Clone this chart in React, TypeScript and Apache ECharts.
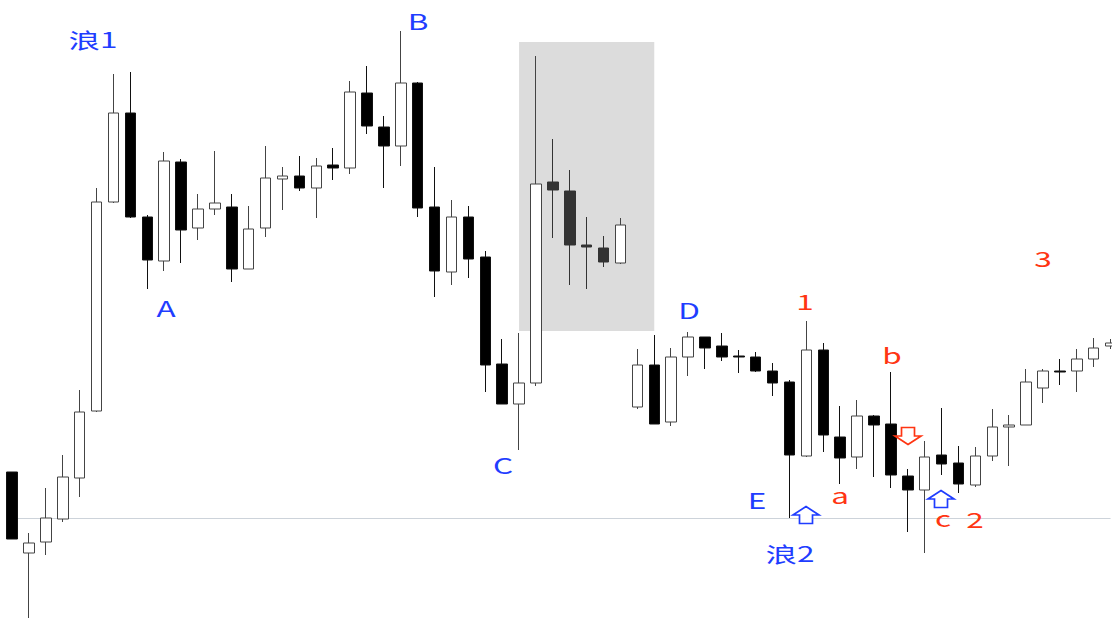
import React, { useEffect, useRef } from "react";
import * as echarts from "echarts";

// ---- data (price units, arbitrary scale) ----
const categories = Array.from({ length: 66 }, (_, i) => `K${i + 1}`);
const opens = [147, 66, 77, 100, 141, 208, 417, 506, 402, 358, 457, 391, 410, 412, 350, 391, 440, 443, 431, 454, 451, 526, 492, 473, 536, 412, 347, 402, 362, 255, 215, 236, 437, 428, 374, 371, 356, 212, 254, 197, 262, 282, 273, 263, 262, 248, 237, 163, 269, 182, 162, 203, 195, 143, 129, 164, 156, 134, 163, 192, 194, 231, 248, 248, 260, 273];
const closes = [80, 76, 101, 142, 207, 417, 506, 402, 359, 458, 389, 410, 416, 350, 390, 441, 443, 431, 453, 451, 527, 493, 473, 536, 411, 348, 402, 360, 254, 215, 236, 435, 429, 374, 372, 357, 394, 254, 195, 262, 282, 271, 262, 262, 248, 236, 164, 269, 184, 161, 203, 194, 144, 129, 162, 155, 135, 163, 192, 194, 237, 248, 247, 260, 271, 276];
const lows = [80, 1, 64, 97, 122, 207, 416, 401, 330, 348, 356, 379, 404, 337, 350, 382, 409, 428, 401, 439, 445, 485, 431, 453, 402, 322, 334, 341, 227, 215, 169, 233, 381, 334, 330, 352, 355, 210, 195, 193, 243, 250, 258, 246, 247, 223, 101, 162, 167, 135, 150, 142, 131, 87, 66, 144, 126, 132, 158, 153, 194, 216, 234, 227, 252, 270];
const highs = [147, 86, 131, 164, 229, 431, 545, 547, 404, 467, 460, 425, 468, 425, 413, 473, 452, 463, 461, 471, 538, 553, 503, 588, 537, 452, 419, 413, 368, 280, 286, 563, 480, 449, 402, 383, 401, 270, 284, 271, 287, 282, 286, 269, 267, 256, 239, 298, 276, 213, 219, 204, 247, 150, 178, 211, 173, 172, 210, 204, 250, 250, 260, 270, 281, 280];

const supportLevel = 101; // wave-2 low
const highlightFrom = 30;
const highlightTo = 38;
const highlightTop = 577;
const highlightBottom = 288;
const dimmedCandles = [32, 33, 34, 35];

const BLUE = "#1f3dff";
const RED = "#ff3512";

const labels = [
  { text: "浪1", x: 93, y: 39, color: BLUE },
  { text: "A", x: 166, y: 308, color: BLUE },
  { text: "B", x: 418, y: 21, color: BLUE },
  { text: "C", x: 503, y: 465, color: BLUE },
  { text: "D", x: 689, y: 310, color: BLUE },
  { text: "E", x: 757, y: 500, color: BLUE },
  { text: "浪2", x: 790, y: 553, color: BLUE },
  { text: "1", x: 805, y: 301, color: RED },
  { text: "a", x: 840, y: 495, color: RED },
  { text: "b", x: 892, y: 355, color: RED },
  { text: "c", x: 943, y: 518, color: RED },
  { text: "2", x: 975, y: 519, color: RED },
  { text: "3", x: 1043, y: 258, color: RED },
];

const arrows = [
  { x: 806, y: 515, dir: "up", color: BLUE },
  { x: 908, y: 436, dir: "down", color: RED },
  { x: 941, y: 499, dir: "up", color: BLUE },
];

function arrowPoints(dir: string) {
  const w = 13, h = 8.5, s = 6.5;
  const up = [
    [0, -h], [w, 0], [s, 0], [s, h], [-s, h], [-s, 0], [-w, 0],
  ];
  return dir === "up" ? up : up.map(([a, b]) => [a, -b]);
}

export default function App() {
  const ref = useRef<HTMLDivElement>(null);
  useEffect(() => {
    if (!ref.current) return;
    const chart = echarts.init(ref.current, undefined, { renderer: "svg" });
    const data = categories.map((_, i) => {
      const item: any = { value: [opens[i], closes[i], lows[i], highs[i]] };
      if (dimmedCandles.includes(i)) {
        item.itemStyle = { color0: "#333", borderColor0: "#333" };
      }
      return item;
    });
    const graphics: any[] = [];
    labels.forEach((l) => {
      graphics.push({
        type: "text",
        x: l.x,
        y: l.y,
        scaleX: 1.5,
        z: 100,
        style: {
          text: l.text,
          fill: l.color,
          font: '21px "Noto Sans CJK SC", "Noto Sans", sans-serif',
          textAlign: "center",
          textVerticalAlign: "middle",
        },
      });
    });
    arrows.forEach((a) => {
      graphics.push({
        type: "polygon",
        x: a.x,
        y: a.y,
        z: 100,
        shape: { points: arrowPoints(a.dir) },
        style: { fill: "#fff", stroke: a.color, lineWidth: 1.7 },
      });
    });
    chart.setOption({
      animation: false,
      backgroundColor: "#fff",
      grid: { left: 3.65, right: 0, top: 0, bottom: 0 },
      xAxis: {
        type: "category",
        data: categories,
        show: false,
        boundaryGap: true,
      },
      yAxis: { type: "value", min: 0, max: 619, show: false },
      series: [
        {
          type: "candlestick",
          data,
          barWidth: 11,
          itemStyle: {
            color: "#fff",
            color0: "#000",
            borderColor: "#444",
            borderColor0: "#111",
            borderWidth: 1,
          },
          markArea: {
            silent: true,
            z: 1,
            itemStyle: { color: "#dcdcdc", opacity: 1 },
            data: [
              [
                { xAxis: categories[highlightFrom], yAxis: highlightTop },
                { xAxis: categories[highlightTo], yAxis: highlightBottom },
              ],
            ],
          },
          markLine: {
            silent: true,
            symbol: "none",
            z: 1,
            label: { show: false },
            lineStyle: { color: "#cdd3da", width: 1, type: "solid" },
            data: [
              [
                { coord: [categories[0], supportLevel] },
                { coord: [categories[categories.length - 1], supportLevel] },
              ],
            ],
          },
        },
      ],
      graphic: graphics,
    });
    return () => chart.dispose();
  }, []);
  return (
    <div
      style={{ position: "fixed", left: 0, top: 0, width: 1112, height: 619, overflow: "hidden", background: "#fff" }}
    >
      <div ref={ref} style={{ width: 1119.05, height: 619 }} />
    </div>
  );
}
